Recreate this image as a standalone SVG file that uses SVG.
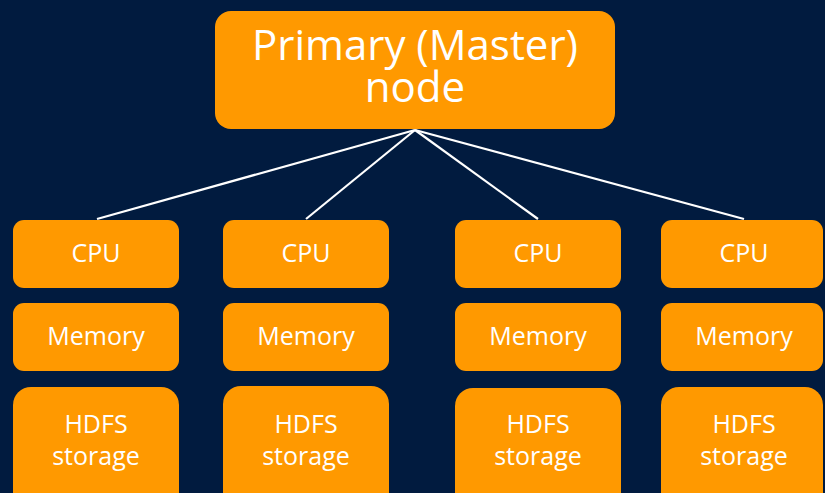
<svg xmlns="http://www.w3.org/2000/svg" width="825" height="493" viewBox="0 0 825 493">
<style>
.b{fill:#FF9900}
.t{fill:#FFFFFF;font-family:"Open Sans","Noto Sans",sans-serif;text-anchor:middle}
.s{font-size:25px}
.l{font-size:42px}
.c{stroke:#FFFFFF;stroke-width:2.2;fill:none}
</style>
<rect width="825" height="493" fill="#011B3F"/>
<g id="connectors">
<line class="c" x1="415" y1="130" x2="97" y2="219"/>
<line class="c" x1="415" y1="130" x2="306" y2="219"/>
<line class="c" x1="415" y1="130" x2="538" y2="219"/>
<line class="c" x1="415" y1="130" x2="744" y2="219"/>
</g>
<g id="master">
<rect class="b" x="215" y="11" width="400" height="118" rx="16"/>
<text class="t l" x="415" y="60">Primary (Master)</text>
<text class="t l" x="415" y="102">node</text>
</g>
<g id="cpu1"><rect class="b" x="13" y="220" width="166" height="68" rx="11"/><text class="t s" x="96" y="262">CPU</text></g>
<g id="mem1"><rect class="b" x="13" y="303" width="166" height="68" rx="11"/><text class="t s" x="96" y="345">Memory</text></g>
<g id="hdfs1"><rect class="b" x="13" y="387" width="166" height="130" rx="18"/><text class="t s" x="96" y="433">HDFS</text><text class="t s" x="96" y="465">storage</text></g>
<g id="cpu2"><rect class="b" x="223" y="220" width="166" height="68" rx="11"/><text class="t s" x="306" y="262">CPU</text></g>
<g id="mem2"><rect class="b" x="223" y="303" width="166" height="68" rx="11"/><text class="t s" x="306" y="345">Memory</text></g>
<g id="hdfs2"><rect class="b" x="223" y="386" width="166" height="130" rx="18"/><text class="t s" x="306" y="433">HDFS</text><text class="t s" x="306" y="465">storage</text></g>
<g id="cpu3"><rect class="b" x="455" y="220" width="166" height="68" rx="11"/><text class="t s" x="538" y="262">CPU</text></g>
<g id="mem3"><rect class="b" x="455" y="303" width="166" height="68" rx="11"/><text class="t s" x="538" y="345">Memory</text></g>
<g id="hdfs3"><rect class="b" x="455" y="388" width="166" height="130" rx="18"/><text class="t s" x="538" y="433">HDFS</text><text class="t s" x="538" y="465">storage</text></g>
<g id="cpu4"><rect class="b" x="661" y="220" width="162" height="68" rx="11"/><text class="t s" x="744" y="262">CPU</text></g>
<g id="mem4"><rect class="b" x="661" y="303" width="162" height="68" rx="11"/><text class="t s" x="744" y="345">Memory</text></g>
<g id="hdfs4"><rect class="b" x="661" y="387" width="162" height="130" rx="18"/><text class="t s" x="744" y="433">HDFS</text><text class="t s" x="744" y="465">storage</text></g>
</svg>
